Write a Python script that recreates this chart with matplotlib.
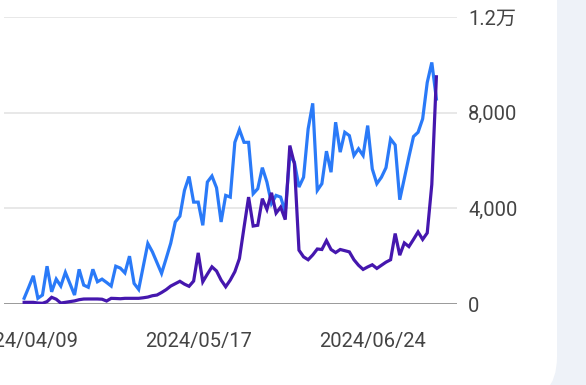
"""
Daily trend, two series, styled like a dashboard card.
"""

import matplotlib
matplotlib.use("Agg")
import matplotlib.pyplot as plt
import matplotlib.dates as mdates
from matplotlib.patches import FancyBboxPatch
import numpy as np
import pandas as pd

# ── Data ───────────────────────────────────────────────────────────────────────
START_DATE = "2024-04-09"

series_a = [
    240, 700, 1180, 240, 375, 1580, 510, 1040, 750, 1320,
    850, 375, 1450, 790, 700, 1450, 930, 1040, 900, 750,
    1580, 1500, 1300, 2000, 860, 610, 1570, 2530, 2180, 1730,
    1280, 1900, 2540, 3430, 3670, 4750, 5330, 4260, 4260, 3290,
    5100, 5350, 4860, 3430, 4540, 4470, 6760, 7290, 6760, 6760,
    4610, 4820, 5700, 5100, 4200, 4540, 4470, 3850, 6210, 5930,
    4890, 5300, 7320, 8390, 4750, 5030, 6390, 5510, 7600, 6350,
    7180, 7040, 6210, 6490, 6210, 7460, 5650, 5030, 5300, 5700,
    6900, 6650, 4360, 5250, 6150, 7000, 7180, 7740, 9260, 10100,
    8570,
]

series_b = [
    70, 70, 70, 40, 30, 100, 280, 200, 40, 70,
    100, 130, 180, 208, 210, 210, 210, 200, 125, 237,
    230, 220, 237, 237, 237, 237, 260, 290, 346, 375,
    480, 600, 750, 850, 950, 830, 740, 960, 2138, 929,
    1250, 1554, 1380, 1000, 721, 1000, 1350, 1900, 3200, 4470,
    3260, 3292, 4404, 3958, 4650, 3800, 4050, 3529, 6625, 5863,
    2250, 1971, 1850, 2050, 2300, 2279, 2650, 2279, 2150, 2279,
    2230, 2179, 1850, 1620, 1446, 1550, 1640, 1488, 1620, 1750,
    1850, 2946, 2042, 2554, 2400, 2700, 3013, 2700, 2971, 5000,
    9500,
]

x_ticks = ["2024-04-09", "2024-05-17", "2024-06-24"]
y_ticks = [0, 4000, 8000, 12000]
y_tick_labels = ["0", "4,000", "8,000", "1.2万"]

# ── Style ──────────────────────────────────────────────────────────────────────
BLUE = "#2A7AF8"
PURPLE = "#4517AE"
GRID = "#E6E6E6"
ZERO = "#9A9A9A"
TEXT = "#444444"
PAGE_BG = "#EEF2F8"
FONT = ["Roboto", "Noto Sans CJK SC", "DejaVu Sans"]

W, H = 586, 385


def main():
    dates = pd.date_range(START_DATE, periods=len(series_a), freq="D")

    fig = plt.figure(figsize=(W / 100, H / 100), dpi=100)
    fig.patch.set_facecolor(PAGE_BG)

    # white card with a rounded bottom-right corner
    card = FancyBboxPatch(
        (-0.6, -0.17), 0.6 + 5.57, 5.0,
        boxstyle="round,pad=0,rounding_size=0.45",
        facecolor="white", edgecolor="none",
        transform=fig.dpi_scale_trans, zorder=-10,
    )
    fig.patches.append(card)

    ax = fig.add_axes([4 / W, 1 - 304 / H, (457 - 4) / W, (304 - 17) / H])
    ax.set_zorder(5)
    ax.set_facecolor("none")
    for spine in ax.spines.values():
        spine.set_visible(False)

    ax.plot(dates, series_a, color=BLUE, lw=2.3, solid_joinstyle="miter", zorder=3)
    ax.plot(dates, series_b, color=PURPLE, lw=2.3, solid_joinstyle="miter", zorder=4)

    for y in y_ticks[1:]:
        ax.axhline(y, color=GRID, lw=1.3, zorder=1)
    ax.axhline(0, color=ZERO, lw=1.4, zorder=2)

    x0 = dates[0] - pd.Timedelta(days=4.4)
    x1 = dates[0] + pd.Timedelta(days=94.5)
    ax.set_xlim(x0, x1)
    ax.set_ylim(0, 12000)

    ax.set_xticks(pd.to_datetime(x_ticks))
    ax.xaxis.set_major_formatter(mdates.DateFormatter("%Y/%m/%d"))
    ax.yaxis.tick_right()
    ax.set_yticks(y_ticks)
    ax.set_yticklabels(y_tick_labels)

    ax.tick_params(axis="x", length=0, pad=20, colors=TEXT, labelsize=14.5)
    ax.tick_params(axis="y", length=0, pad=8, colors=TEXT, labelsize=14.5)
    for lbl in ax.get_xticklabels() + ax.get_yticklabels():
        lbl.set_family(FONT)

    fig.savefig("out.png", dpi=100, facecolor=PAGE_BG)
    plt.close(fig)


if __name__ == "__main__":
    main()
